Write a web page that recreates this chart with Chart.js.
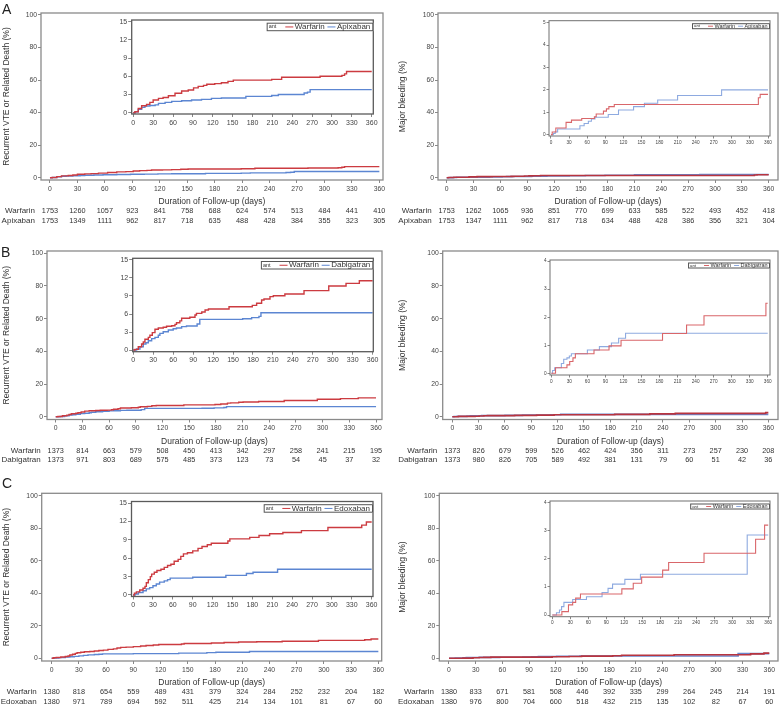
<!DOCTYPE html>
<html>
<head>
<meta charset="utf-8">
<script src="https://cdn.jsdelivr.net/npm/chart.js@4.4.1/dist/chart.umd.min.js"></script>
<style>
  html, body { margin: 0; padding: 0; background: #fff; overflow: hidden; }
  #page { position: relative; width: 779px; height: 705px; }
  #page canvas { position: absolute; }
  .letter { position: absolute; z-index: 2; font: 14px "Liberation Sans", Arial, sans-serif; color: #222; }
</style>
</head>
<body>
<div id="page">
  <div class="letter" style="left:2px;top:1px">A</div>
  <div class="letter" style="left:1px;top:244px">B</div>
  <div class="letter" style="left:2px;top:475px">C</div>
</div>
<script>
// tick values
const riskDays = [0, 30, 60, 90, 120, 150, 180, 210, 240, 270, 300, 330, 360];
const mainYTicks = [0, 20, 40, 60, 80, 100];
const vteInsetTicks = [0, 3, 6, 9, 12, 15];
const bleedInsetTicksA = [0, 1, 2, 3, 4, 5];
const bleedInsetTicksBC = [0, 1, 2, 3, 4];

// A: warfarin vs apixaban, recurrent VTE (%)
const aVteWarfDays = [0, 2.5, 7.5, 12.6, 20, 25, 30, 38, 45, 53, 63, 73, 83, 91, 98, 106, 111, 123, 133, 143, 151, 209, 224, 282, 315, 319, 322, 360];
const aVteWarfPct = [0, 0.15, 0.7, 1.15, 1.37, 1.7, 2.1, 2.36, 2.5, 2.8, 3.2, 3.57, 3.74, 4.1, 4.34, 4.5, 4.7, 4.8, 4.95, 5.16, 5.38, 5.5, 5.85, 6.0, 6.15, 6.4, 6.8, 6.8];
const aVteApixDays = [0, 2.5, 7.5, 12.6, 17.6, 25, 33, 38, 48, 58, 73, 88, 103, 118, 133, 170, 209, 219, 258, 263, 267, 360];
const aVteApixPct = [0, 0.15, 0.55, 0.88, 1.1, 1.2, 1.3, 1.54, 1.7, 1.87, 1.98, 2.1, 2.2, 2.36, 2.42, 2.7, 2.85, 3.0, 3.25, 3.4, 3.8, 3.8];
// A: major bleeding (%)
const aBleedWarfDays = [0, 2, 8, 25, 34, 51, 72, 75, 87, 92, 96, 105, 344, 347, 360];
const aBleedWarfPct = [0, 0.12, 0.3, 0.55, 0.65, 0.72, 0.8, 0.92, 1.05, 1.15, 1.25, 1.35, 1.65, 1.8, 1.8];
const aBleedApixDays = [0, 4, 7, 11, 48, 55, 62, 67, 73, 95, 112, 137, 155, 177, 210, 283, 360];
const aBleedApixPct = [0, 0.05, 0.12, 0.25, 0.4, 0.5, 0.6, 0.7, 0.78, 0.9, 1.1, 1.25, 1.4, 1.55, 1.75, 2.0, 2.0];

// B: warfarin vs dabigatran
const bVteWarfDays = [0, 2.5, 7.5, 12.5, 15, 17.5, 22.6, 25, 28.6, 32.6, 37.6, 45, 50, 57.7, 62.7, 65, 70, 72.7, 85, 92.8, 95, 103, 108, 113, 144, 179, 185.5, 193, 196.6, 205.6, 210.6, 228, 256.8, 294, 320, 340, 360];
const bVteWarfPct = [0, 0.1, 0.55, 1.0, 1.33, 1.8, 2.1, 2.45, 2.9, 3.45, 3.67, 3.8, 3.95, 4.05, 4.28, 4.55, 4.85, 5.3, 5.45, 5.83, 6.1, 6.33, 6.67, 6.83, 7.22, 7.44, 7.8, 8.33, 8.5, 8.9, 9.05, 9.33, 9.9, 10.67, 11.1, 11.55, 11.55];
const bVteDabiDays = [0, 5, 10, 15, 19, 22.6, 27.6, 32.6, 37.6, 40, 45, 52.7, 60, 65, 72.7, 80, 96, 100, 164.5, 178, 189, 192, 360];
const bVteDabiPct = [0, 0.17, 0.55, 1.0, 1.22, 1.55, 1.9, 2.1, 2.45, 2.78, 3.05, 3.33, 3.55, 3.67, 3.9, 4.0, 4.33, 5.1, 5.2, 5.4, 5.6, 6.2, 6.2];
const bBleedWarfDays = [0, 7, 26, 30.6, 36, 40, 71, 96, 116, 185, 225, 254, 357, 360];
const bBleedWarfPct = [0, 0.2, 0.3, 0.42, 0.55, 0.7, 0.83, 0.98, 1.18, 1.42, 1.72, 2.05, 2.5, 2.5];
const bBleedDabiDays = [0, 2, 5.6, 16.7, 20.6, 26, 30, 33.4, 60, 80, 100, 112, 123.5, 360];
const bBleedDabiPct = [0, 0.1, 0.2, 0.35, 0.5, 0.55, 0.62, 0.7, 0.83, 0.95, 1.08, 1.25, 1.43, 1.43];

// C: warfarin vs edoxaban
const cVteWarfDays = [0, 2, 5, 10, 15, 18, 20, 23, 26, 28, 32, 36, 42, 47, 52, 57, 62, 68, 72, 76, 82, 90, 98, 104, 112, 118, 143, 146, 176, 190, 206, 226, 254, 294, 345, 352, 360];
const cVteWarfPct = [0, 0.3, 0.5, 0.8, 1.1, 1.4, 2.0, 2.5, 3.0, 3.4, 3.7, 4.0, 4.2, 4.5, 4.8, 5.0, 5.5, 5.8, 6.3, 6.7, 6.9, 7.2, 7.6, 7.9, 8.2, 8.45, 8.8, 9.15, 9.4, 9.7, 10.0, 10.2, 10.5, 11.0, 11.4, 11.9, 11.9];
const cVteEdoxDays = [0, 3, 8, 15, 20, 25, 30, 35, 40, 47, 52, 56, 90, 140, 171, 181, 218, 360];
const cVteEdoxPct = [0, 0.15, 0.4, 0.7, 1.0, 1.2, 1.5, 1.8, 2.1, 2.3, 2.5, 2.75, 2.9, 3.2, 3.5, 3.7, 4.2, 4.2];
const cBleedWarfDays = [0, 16, 27, 34, 39, 47, 116, 135, 149, 184, 194, 253, 339, 354, 360];
const cBleedWarfPct = [0, 0.12, 0.36, 0.45, 0.6, 0.75, 0.93, 1.13, 1.35, 1.6, 1.87, 2.2, 2.7, 3.2, 3.2];
const cBleedEdoxDays = [0, 7, 12, 15.5, 19.4, 34, 57, 83, 93, 100.5, 121, 147, 325, 360];
const cBleedEdoxPct = [0, 0.08, 0.18, 0.3, 0.45, 0.55, 0.65, 0.8, 0.95, 1.1, 1.27, 1.45, 2.85, 2.85];

// numbers at risk
const aVteRiskWarf = [1753, 1260, 1057, 923, 841, 758, 688, 624, 574, 513, 484, 441, 410];
const aVteRiskApix = [1753, 1349, 1111, 962, 817, 718, 635, 488, 428, 384, 355, 323, 305];
const aBleedRiskWarf = [1753, 1262, 1065, 936, 851, 770, 699, 633, 585, 522, 493, 452, 418];
const aBleedRiskApix = [1753, 1347, 1111, 962, 817, 718, 634, 488, 428, 386, 356, 321, 304];
const bVteRiskWarf = [1373, 814, 663, 579, 508, 450, 413, 342, 297, 258, 241, 215, 195];
const bVteRiskDabi = [1373, 971, 803, 689, 575, 485, 373, 123, 73, 54, 45, 37, 32];
const bBleedRiskWarf = [1373, 826, 679, 599, 526, 462, 424, 356, 311, 273, 257, 230, 208];
const bBleedRiskDabi = [1373, 980, 826, 705, 589, 492, 381, 131, 79, 60, 51, 42, 36];
const cVteRiskWarf = [1380, 818, 654, 559, 489, 431, 379, 324, 284, 252, 232, 204, 182];
const cVteRiskEdox = [1380, 971, 789, 694, 592, 511, 425, 214, 134, 101, 81, 67, 60];
const cBleedRiskWarf = [1380, 833, 671, 581, 508, 446, 392, 335, 299, 264, 245, 214, 191];
const cBleedRiskEdox = [1380, 976, 800, 704, 600, 518, 432, 215, 135, 102, 82, 67, 60];

const FONT = '"Liberation Sans", Arial, sans-serif';
Chart.defaults.font.family = FONT;
Chart.defaults.color = '#444';
Chart.defaults.animation = false;

const RED = '#cc3b40', BLUE = '#5c86d2';
const RED_LIGHT = '#d9666a', BLUE_LIGHT = '#8eaae0';

const page = document.getElementById('page');

function addCanvas(x, y, w, h) {
  const c = document.createElement('canvas');
  c.width = w;
  c.height = h;
  c.style.left = x + 'px';
  c.style.top = y + 'px';
  page.appendChild(c);
  return c;
}

function stepSeries(label, days, pct, color, width) {
  return {
    label: label,
    data: days.map((d, i) => ({ x: d, y: pct[i] })),
    borderColor: color,
    borderWidth: width,
    pointRadius: 0,
    stepped: true,
    fill: false,
  };
}

// box around the plot area
const framePlugin = {
  id: 'frame',
  afterDraw(chart, args, opts) {
    const { ctx, chartArea: a } = chart;
    ctx.save();
    ctx.strokeStyle = opts.color;
    ctx.lineWidth = opts.width;
    ctx.strokeRect(a.left, a.top, a.right - a.left, a.bottom - a.top);
    ctx.restore();
  },
};

// numbers-at-risk table under the x axis
const riskPlugin = {
  id: 'risk',
  afterDraw(chart, args, opts) {
    if (!opts.rows) return;
    const { ctx, chartArea: a, scales } = chart;
    const x = scales.x;
    ctx.save();
    ctx.fillStyle = '#333';
    ctx.textBaseline = 'middle';
    opts.rows.forEach((row, i) => {
      const y = a.bottom + opts.offsets[i];
      ctx.font = '8px ' + FONT;
      ctx.textAlign = 'right';
      ctx.fillText(row.label, x.getPixelForValue(0) - 15, y);
      ctx.font = '7.3px ' + FONT;
      ctx.textAlign = 'center';
      row.values.forEach((v, j) => ctx.fillText(String(v), x.getPixelForValue(riskDays[j]), y));
    });
    ctx.restore();
  },
};

// small legend box in the top right corner of the inset
const insetLegend = {
  id: 'insetLegend',
  afterDraw(chart, args, o) {
    const { ctx, chartArea: a } = chart;
    const sets = chart.data.datasets;
    ctx.save();
    ctx.font = o.ant + 'px ' + FONT;
    const antW = ctx.measureText('ant').width;
    ctx.font = o.size + 'px ' + FONT;
    const labelW = sets.map(ds => ctx.measureText(ds.label).width);
    let w = o.pad + antW + o.gapAnt;
    labelW.forEach((lw, i) => { w += o.line + 1.5 + lw + (i < labelW.length - 1 ? o.gap : 0); });
    w += o.padR;
    const left = a.right - w, top = a.top + o.top, mid = top + o.h / 2;
    ctx.fillStyle = '#fff';
    ctx.fillRect(left, top, w, o.h);
    ctx.strokeStyle = '#555';
    ctx.lineWidth = 1;
    ctx.strokeRect(left + 0.5, top + 0.5, w - 1, o.h - 1);
    ctx.fillStyle = '#333';
    ctx.textBaseline = 'middle';
    ctx.textAlign = 'left';
    let cx = left + o.pad;
    ctx.font = o.ant + 'px ' + FONT;
    ctx.fillText('ant', cx, mid);
    cx += antW + o.gapAnt;
    ctx.font = o.size + 'px ' + FONT;
    sets.forEach((ds, i) => {
      ctx.strokeStyle = ds.borderColor;
      ctx.lineWidth = 1;
      ctx.beginPath();
      ctx.moveTo(cx, mid);
      ctx.lineTo(cx + o.line, mid);
      ctx.stroke();
      cx += o.line + 1.5;
      ctx.fillStyle = '#333';
      ctx.fillText(ds.label, cx, mid);
      cx += labelW[i] + o.gap;
    });
    ctx.restore();
  },
};

function fixedTicks(values) {
  return scale => { scale.ticks = values.map(v => ({ value: v })); };
}

function tickGrid(len) {
  return { display: true, drawOnChartArea: false, drawTicks: true, tickLength: len, color: '#888', lineWidth: 1 };
}

function drawMain(p) {
  const b = p.box, f = p.frame;
  const xh = 27;
  const cv = addCanvas(b.x, b.y, b.w, b.h);
  const yw = f.l - b.x;
  new Chart(cv, {
    type: 'line',
    data: { datasets: p.series },
    options: {
      responsive: false,
      layout: { padding: { left: 0, top: f.t - b.y, right: b.x + b.w - f.r, bottom: b.y + b.h - f.b - xh } },
      scales: {
        x: {
          type: 'linear', min: p.xRange[0], max: p.xRange[1],
          afterBuildTicks: fixedTicks(riskDays),
          afterFit: s => { s.height = xh; },
          grid: tickGrid(3),
          border: { display: false },
          ticks: { font: { size: 6.8 }, padding: 2, maxRotation: 0, autoSkip: false, callback: v => String(v) },
          title: { display: true, text: 'Duration of Follow-up (days)', font: { size: 8.5 }, color: '#333', padding: { top: 0, bottom: 0 } },
        },
        y: {
          min: p.yRange[0], max: p.yRange[1],
          afterBuildTicks: fixedTicks(mainYTicks),
          afterFit: s => { s.width = yw; },
          grid: tickGrid(3),
          border: { display: false },
          ticks: { font: { size: 6.8 }, padding: 1, autoSkip: false, callback: v => String(v) },
          title: { display: true, text: p.yTitle, font: { size: 8.5 }, color: '#333', padding: { top: p.titleX - b.x - 5.1, bottom: 0 } },
        },
      },
      plugins: {
        legend: { display: false },
        tooltip: { enabled: false },
        frame: { color: '#8a8a8a', width: 1.3 },
        risk: { rows: p.rows, offsets: [31, 40.5] },
      },
    },
    plugins: [framePlugin, riskPlugin],
  });
}

function drawInset(p) {
  const f = p.frame, small = p.small;
  const yw = small ? 13 : 20, xh = small ? 10 : 14, padT = small ? 5 : 7, padR = small ? 6 : 9;
  const cx = Math.floor(f.l - yw), cy = Math.floor(f.t - padT);
  const cw = Math.ceil(f.r + padR) - cx, ch = Math.ceil(f.b + xh + 2) - cy;
  const cv = addCanvas(cx, cy, cw, ch);
  const fs = small ? 4.7 : 7;
  new Chart(cv, {
    type: 'line',
    data: { datasets: p.series },
    options: {
      responsive: false,
      layout: { padding: { left: f.l - yw - cx, top: f.t - cy, right: cx + cw - f.r, bottom: cy + ch - f.b - xh } },
      scales: {
        x: {
          type: 'linear', min: p.xRange[0], max: p.xRange[1],
          afterBuildTicks: fixedTicks(riskDays),
          afterFit: s => { s.height = xh; },
          grid: tickGrid(small ? 2.5 : 3),
          border: { display: false },
          ticks: { font: { size: fs }, padding: small ? 1 : 1.5, maxRotation: 0, autoSkip: false, callback: v => String(v) },
        },
        y: {
          min: p.yRange[0], max: p.yRange[1],
          afterBuildTicks: fixedTicks(p.yTicks),
          afterFit: s => { s.width = yw; },
          grid: tickGrid(small ? 2.5 : 3.5),
          border: { display: false },
          ticks: { font: { size: fs }, padding: 1, autoSkip: false, callback: v => String(v) },
        },
      },
      plugins: {
        legend: { display: false },
        tooltip: { enabled: false },
        frame: { color: small ? '#707070' : '#5a5a5a', width: small ? 1 : 1.3 },
        insetLegend: small
          ? { size: 5.5, ant: 4.3, h: 6, top: 2.5, line: 5, gapAnt: 8, gap: 3, pad: 2, padR: 2.5 }
          : { size: 8, ant: 5.5, h: 8.5, top: 2.7, line: 8, gapAnt: 9, gap: 2.7, pad: 2, padR: 3 },
      },
    },
    plugins: [framePlugin, insetLegend],
  });
}

const VTE_TITLE = 'Recurrent VTE or Related Death (%)';
const BLEED_TITLE = 'Major bleeding (%)';

function vteSeries(name2, wDays, wPct, oDays, oPct) {
  return [stepSeries('Warfarin', wDays, wPct, RED, 1.4), stepSeries(name2, oDays, oPct, BLUE, 1.4)];
}
function bleedSeries(name2, wDays, wPct, oDays, oPct) {
  return [stepSeries('Warfarin', wDays, wPct, RED_LIGHT, 1.1), stepSeries(name2, oDays, oPct, BLUE_LIGHT, 1.1)];
}
// bleeding curves on the 0-100 scale are drawn a bit heavier
function bleedMainSeries(name2, wDays, wPct, oDays, oPct) {
  return [stepSeries('Warfarin', wDays, wPct, '#b8343f', 1.6), stepSeries(name2, oDays, oPct, '#6a86cc', 1.6)];
}

// row A
drawMain({
  box: { x: 0, y: 0, w: 390, h: 230 }, frame: { l: 41, t: 13, r: 383, b: 180 },
  xRange: [-9.8, 364], yRange: [-1.4, 101.2], yTitle: VTE_TITLE, titleX: 6.3,
  series: vteSeries('Apixaban', aVteWarfDays, aVteWarfPct, aVteApixDays, aVteApixPct),
  rows: [{ label: 'Warfarin', values: aVteRiskWarf }, { label: 'Apixaban', values: aVteRiskApix }],
});
drawMain({
  box: { x: 390, y: 0, w: 389, h: 230 }, frame: { l: 438, t: 13, r: 778, b: 180 },
  xRange: [-9.7, 370.4], yRange: [-1.4, 101.2], yTitle: BLEED_TITLE, titleX: 403,
  series: bleedMainSeries('Apixaban', aBleedWarfDays, aBleedWarfPct, aBleedApixDays, aBleedApixPct),
  rows: [{ label: 'Warfarin', values: aBleedRiskWarf }, { label: 'Apixaban', values: aBleedRiskApix }],
});
// row B
drawMain({
  box: { x: 0, y: 230, w: 390, h: 235 }, frame: { l: 47, t: 251, r: 382, b: 419.5 },
  xRange: [-9.8, 366.7], yRange: [-1.7, 101.4], yTitle: VTE_TITLE, titleX: 6.3,
  series: vteSeries('Dabigatran', bVteWarfDays, bVteWarfPct, bVteDabiDays, bVteDabiPct),
  rows: [{ label: 'Warfarin', values: bVteRiskWarf }, { label: 'Dabigatran', values: bVteRiskDabi }],
});
drawMain({
  box: { x: 390, y: 230, w: 389, h: 235 }, frame: { l: 442.7, t: 251, r: 778, b: 419.5 },
  xRange: [-10.9, 371], yRange: [-1.7, 101.4], yTitle: BLEED_TITLE, titleX: 403,
  series: bleedMainSeries('Dabigatran', bBleedWarfDays, bBleedWarfPct, bBleedDabiDays, bBleedDabiPct),
  rows: [{ label: 'Warfarin', values: bBleedRiskWarf }, { label: 'Dabigatran', values: bBleedRiskDabi }],
});
// row C
drawMain({
  box: { x: 0, y: 465, w: 390, h: 240 }, frame: { l: 41.7, t: 493.3, r: 381.7, b: 661 },
  xRange: [-11, 363.7], yRange: [-1.66, 101.5], yTitle: VTE_TITLE, titleX: 6.3,
  series: vteSeries('Edoxaban', cVteWarfDays, cVteWarfPct, cVteEdoxDays, cVteEdoxPct),
  rows: [{ label: 'Warfarin', values: cVteRiskWarf }, { label: 'Edoxaban', values: cVteRiskEdox }],
});
drawMain({
  box: { x: 390, y: 465, w: 389, h: 240 }, frame: { l: 439.3, t: 493.3, r: 778, b: 661 },
  xRange: [-10.9, 369.8], yRange: [-1.66, 101.5], yTitle: BLEED_TITLE, titleX: 403,
  series: bleedMainSeries('Edoxaban', cBleedWarfDays, cBleedWarfPct, cBleedEdoxDays, cBleedEdoxPct),
  rows: [{ label: 'Warfarin', values: cBleedRiskWarf }, { label: 'Edoxaban', values: cBleedRiskEdox }],
});

// insets
drawInset({
  frame: { l: 131.7, t: 20, r: 373.3, b: 114 }, xRange: [-2.4, 362.4], yRange: [-0.21, 15.28], yTicks: vteInsetTicks,
  series: vteSeries('Apixaban', aVteWarfDays, aVteWarfPct, aVteApixDays, aVteApixPct),
});
drawInset({
  small: true, frame: { l: 549, t: 20.7, r: 770, b: 136 }, xRange: [-3.3, 363.3], yRange: [-0.06, 5.09], yTicks: bleedInsetTicksA,
  series: bleedSeries('Apixaban', aBleedWarfDays, aBleedWarfPct, aBleedApixDays, aBleedApixPct),
});
drawInset({
  frame: { l: 132.7, t: 258.3, r: 373.3, b: 351.7 }, xRange: [-0.9, 361], yRange: [-0.28, 15.28], yTicks: vteInsetTicks,
  series: vteSeries('Dabigatran', bVteWarfDays, bVteWarfPct, bVteDabiDays, bVteDabiPct),
});
drawInset({
  small: true, frame: { l: 550, t: 260, r: 770, b: 375 }, xRange: [-2.2, 363.8], yRange: [-0.06, 4.04], yTicks: bleedInsetTicksBC,
  series: bleedSeries('Dabigatran', bBleedWarfDays, bBleedWarfPct, bBleedDabiDays, bBleedDabiPct),
});
drawInset({
  frame: { l: 131.5, t: 501.5, r: 373, b: 596.5 }, xRange: [-2.4, 362], yRange: [-0.25, 15.25], yTicks: vteInsetTicks,
  series: vteSeries('Edoxaban', cVteWarfDays, cVteWarfPct, cVteEdoxDays, cVteEdoxPct),
});
drawInset({
  small: true, frame: { l: 550, t: 501, r: 770, b: 616.7 }, xRange: [-3.8, 363], yRange: [-0.06, 4.06], yTicks: bleedInsetTicksBC,
  series: bleedSeries('Edoxaban', cBleedWarfDays, cBleedWarfPct, cBleedEdoxDays, cBleedEdoxPct),
});
</script>
</body>
</html>
